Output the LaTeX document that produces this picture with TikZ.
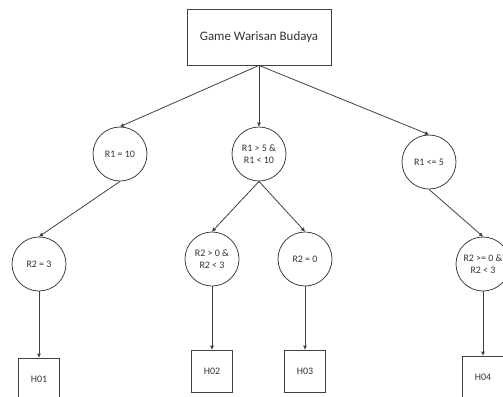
\documentclass[tikz,border=0pt]{standalone}
\usepackage{fontspec}
\setmainfont{Carlito}
\usetikzlibrary{arrows.meta}
\begin{document}
\begin{tikzpicture}[x=1bp,y=-1bp,
  line width=0.8bp,
  every node/.style={text=black!80},
  cond/.style={draw=black!75,circle,minimum size=54bp,inner sep=0pt,align=center,font=\fontsize{10}{12.5}\selectfont},
  leaf/.style={draw=black!75,rectangle,minimum width=41bp,minimum height=42bp,inner sep=0pt,font=\fontsize{10}{12.5}\selectfont},
  rootbox/.style={draw=black!75,rectangle,minimum width=144bp,minimum height=56bp,inner sep=0pt,font=\fontsize{13}{15}\selectfont},
  conn/.style={draw=black!75,-{Triangle[length=4bp,width=3.5bp]}}]
\useasboundingbox (0,0) rectangle (503,396);
\node[rootbox] (root) at (259,37) {Game Warisan Budaya};
\node[cond] (c1) at (120,154) {R1 = 10};
\node[cond] (c2) at (259,154) {R1 > 5 \&\\R1 < 10};
\node[cond] (c3) at (429,162) {R1 <= 5};
\node[cond] (d1) at (39,264) {R2 = 3};
\node[cond] (d2) at (212,259) {R2 > 0 \&\\R2 < 3};
\node[cond] (d3) at (305,259) {R2 = 0};
\node[cond] (d4) at (483,264) {R2 >= 0 \&\\R2 < 3};
\node[leaf] (h1) at (39,379) {H01};
\node[leaf] (h2) at (212,371) {H02};
\node[leaf] (h3) at (305,371) {H03};
\node[leaf] (h4) at (483,377) {H04};
\draw[conn] (root.south) -- (c1.north);
\draw[conn] (root.south) -- (c2.north);
\draw[conn] (root.south) -- (c3.north);
\draw[conn] (c1.south) -- (d1.north);
\draw[conn] (c2.south) -- (d2.north);
\draw[conn] (c2.south) -- (d3.north);
\draw[conn] (c3.south) -- (d4.north);
\draw[conn] (d1.south) -- (h1.north);
\draw[conn] (d2.south) -- (h2.north);
\draw[conn] (d3.south) -- (h3.north);
\draw[conn] (d4.south) -- (h4.north);
\end{tikzpicture}
\end{document}
